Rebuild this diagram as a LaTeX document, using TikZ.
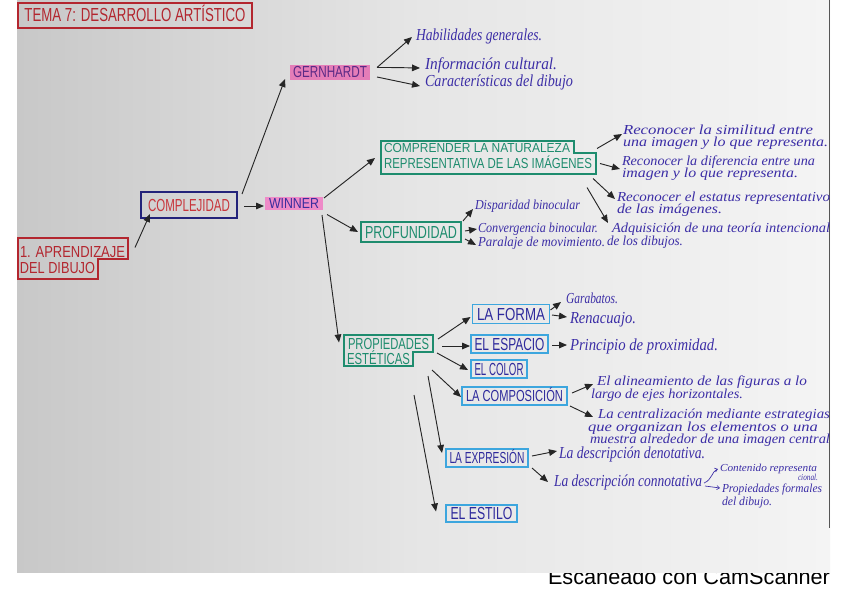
\documentclass[tikz,border=0pt]{standalone}
\usepackage{fontspec}
\usepackage{graphicx}
\usetikzlibrary{arrows.meta}
\setmainfont{Liberation Serif}
\newfontfamily\capsfont{Liberation Sans}
\newdimen\pu \pu=0.75pt
\newcommand\F[3]{\resizebox{#1\pu}{#2\pu}{\capsfont\raisebox{0pt}[\fontcharht\font`E][0pt]{#3}}}
\newcommand\C[3][10]{\resizebox{#2\pu}{#1\pu}{\itshape\raisebox{0pt}[\fontcharht\font`l][0pt]{#3}}}
\definecolor{redc}{HTML}{B3262F}
\definecolor{navyc}{HTML}{23237A}
\definecolor{complejred}{HTML}{C8363C}
\definecolor{pinkc}{HTML}{EE8AC8}
\definecolor{gernpink}{HTML}{E57DB8}
\definecolor{winnertext}{HTML}{3A2E9E}
\definecolor{gerntext}{HTML}{5B2A86}
\definecolor{greenc}{HTML}{1E8C6E}
\definecolor{bluec}{HTML}{3DA6DE}
\definecolor{bluetext}{HTML}{2E2A9C}
\definecolor{inkc}{HTML}{3B2DA6}
\definecolor{arrc}{HTML}{262626}
\definecolor{paperL}{HTML}{C8C8C8}
\definecolor{paperM}{HTML}{E6E6E6}
\definecolor{paperR}{HTML}{F4F4F4}
\definecolor{edgec}{HTML}{555555}
\begin{document}
\begin{tikzpicture}[x=0.75pt,y=-0.75pt,
  every node/.style={inner sep=0pt,outer sep=0pt},
  redbox/.style={draw=redc,line width=0.9pt,text=redc},
  navybox/.style={draw=navyc,line width=2.2pt,text=complejred},
  greenbox/.style={draw=greenc,line width=0.9pt,text=greenc},
  bluebox/.style={draw=bluec,line width=1.1pt,text=bluetext},
  ink/.style={text=inkc,anchor=west},
  arr/.style={draw=arrc,line width=0.7pt,-{Triangle[length=6pt,width=5pt]}},
  smallarr/.style={draw=inkc,line width=0.5pt,-{Straight Barb[length=2pt,width=3pt]}}]
\fill[white] (0,0) rectangle (848,599);
\useasboundingbox (0,0) rectangle (848,599);
% footer (partly hidden by the page)
\node[anchor=base west,text=black] (scan) at (548,584) {\resizebox{282\pu}{!}{\capsfont Escaneado con CamScanner}};
% paper
\shade[left color=paperL,right color=paperR,middle color=paperM] (17,0) rectangle (830,572);
\draw[edgec,line width=0.8pt] (829.5,0) -- (829.5,528);

% title
\node[redbox,minimum width=234*\pu,minimum height=25*\pu] (tema) at (135,15.5) {\F{221}{13}{TEMA 7: DESARROLLO ARTÍSTICO}};

% 1. aprendizaje
\node[text=redc,anchor=west] (apr1) at (20,251.5) {\F{105}{11}{1. APRENDIZAJE}};
\node[text=redc,anchor=west] (apr2) at (20,268) {\F{75}{11}{DEL DIBUJO}};
\draw[redc,line width=0.9pt] (18,238) -- (128,238) -- (128,259) -- (98,259) -- (98,279) -- (18,279) -- cycle;

% complejidad, winner, gernhardt
\node[navybox,minimum width=96*\pu,minimum height=26*\pu] (complej) at (189,205) {\F{82}{12}{COMPLEJIDAD}};
\node[fill=pinkc,text=winnertext,minimum width=58*\pu,minimum height=13*\pu] (winner) at (294,203.5) {\F{50}{10}{WINNER}};
\node[fill=gernpink,text=gerntext,minimum width=80*\pu,minimum height=15*\pu] (gern) at (330,72.5) {\F{74}{11}{GERNHARDT}};

\draw[arr] ([shift={(10,-4)}]apr1.east) -- ([shift={(9,-4)}]complej.south west);
\draw[arr] ([shift={(5,2)}]complej.north east) -- ([shift={(-5,-1)}]gern.south west);
\draw[arr] ([shift={(7,1)}]complej.east) -- ([shift={(-1,2.5)}]winner.west);

% gernhardt children
\node[ink] (habil) at (416,35) {\C[11]{126}{Habilidades generales.}};
\node[ink] (inform) at (425,64) {\C[11]{132}{Información cultural.}};
\node[ink] (caract) at (425,81) {\C[11]{148}{Características del dibujo}};
\draw[arr] ([shift={(7,-5)}]gern.east) -- ([shift={(-4,2)}]habil.west);
\draw[arr] ([shift={(7,-5)}]gern.east) .. controls ([shift={(22,-5)}]gern.east) .. ([shift={(-5,4)}]inform.west);
\draw[arr] ([shift={(7,4.5)}]gern.east) -- ([shift={(-5,5)}]caract.west);

% comprender
\node[text=greenc,anchor=west] (c1) at (384,148) {\F{186}{9}{COMPRENDER LA NATURALEZA}};
\node[text=greenc,anchor=west] (c2) at (384,163) {\F{208}{10}{REPRESENTATIVA DE LAS IMÁGENES}};
\draw[greenc,line width=0.9pt] (381,141) -- (574,141) -- (574,153) -- (596,153) -- (596,174) -- (381,174) -- cycle;
\draw[arr] ([shift={(1,1)}]winner.north east) -- ([shift={(-9,0)}]c2.north west);

\node[ink] (sim1) at (623,130) {\C[9]{190}{Reconocer la similitud entre}};
\node[ink] (sim2) at (623,142) {\C[9]{205}{una imagen y lo que representa.}};
\node[ink] (dif1) at (622,161) {\C[9]{193}{Reconocer la diferencia entre una}};
\node[ink] (dif2) at (622,173) {\C[9]{176}{imagen y lo que representa.}};
\node[ink] (estat1) at (617,197) {\C[9]{213}{Reconocer el estatus representativo}};
\node[ink] (estat2) at (617,209) {\C[9]{105}{de las imágenes.}};
\node[ink] (adq1) at (612,228) {\C[9]{218}{Adquisición de una teoría intencional}};
\node[ink] (adq2) at (607,241) {\C[9]{76}{de los dibujos.}};
\draw[arr] ([shift={(5,-14.5)}]c2.east) -- ([shift={(-1,4)}]sim1.west);
\draw[arr] ([shift={(8,0.5)}]c2.east) -- ([shift={(-2,8)}]dif1.west);
\draw[arr] ([shift={(1,15.5)}]c2.east) -- ([shift={(-2,2)}]estat1.west);
\draw[arr] ([shift={(-5,24.5)}]c2.east) -- ([shift={(-4,-5)}]adq1.west);

% profundidad
\node[greenbox,minimum width=100*\pu,minimum height=20*\pu] (profund) at (411,232) {\F{92}{12}{PROFUNDIDAD}};
\draw[arr] ([shift={(4,4.5)}]winner.south east) -- ([shift={(-3,0)}]profund.west);
\node[ink] (disp) at (475,205) {\C[9]{105}{Disparidad binocular}};
\node[ink] (conv) at (478,228) {\C[9]{120}{Convergencia binocular.}};
\node[ink] (paral) at (478,242) {\C[9]{127}{Paralaje de movimiento.}};
\draw[arr] ([shift={(2,-1)}]profund.north east) -- ([shift={(-2,4)}]disp.west);
\draw[arr] ([shift={(4,-1)}]profund.east) -- ([shift={(-1,1)}]conv.west);
\draw[arr] ([shift={(4,7)}]profund.east) -- ([shift={(-2,3)}]paral.west);

% propiedades esteticas
\node[text=greenc,anchor=west] (pr1) at (348,343.5) {\F{81}{11}{PROPIEDADES}};
\node[text=greenc,anchor=west] (pr2) at (347,359) {\F{63}{11}{ESTÉTICAS}};
\draw[greenc,line width=0.9pt] (344,335) -- (433,335) -- (433,352) -- (413,352) -- (413,366) -- (344,366) -- cycle;
\draw[arr] ([shift={(-1,5)}]winner.south east) -- ([shift={(-9,-1)}]pr1.west);

\node[bluebox,minimum width=77*\pu,minimum height=19*\pu] (forma) at (511,314) {\F{68}{12}{LA FORMA}};
\node[bluebox,minimum width=77*\pu,minimum height=18*\pu] (espacio) at (509.5,344) {\F{70}{12}{EL ESPACIO}};
\node[bluebox,minimum width=56*\pu,minimum height=18*\pu] (color) at (499,369) {\F{49}{12}{EL COLOR}};
\node[bluebox,minimum width=105*\pu,minimum height=18*\pu] (compos) at (514.5,396) {\F{97}{11}{LA COMPOSICIÓN}};
\node[bluebox,minimum width=82*\pu,minimum height=18*\pu] (expres) at (487,458) {\F{75}{11}{LA EXPRESIÓN}};
\node[bluebox,minimum width=71*\pu,minimum height=17*\pu] (estilo) at (481.5,513.5) {\F{62}{12}{EL ESTILO}};

\draw[arr] ([shift={(9,-4.5)}]pr1.east) -- ([shift={(-2,3)}]forma.west);
\draw[arr] ([shift={(13,2.5)}]pr1.east) -- ([shift={(-1,2)}]espacio.west);
\draw[arr] ([shift={(8,9.5)}]pr1.east) -- ([shift={(-3,1)}]color.west);
\draw[arr] ([shift={(22,11)}]pr2.east) -- ([shift={(-1,1)}]compos.west);
\draw[arr] ([shift={(18,17)}]pr2.east) -- ([shift={(-4,-5)}]expres.west);
\draw[arr] ([shift={(4,36)}]pr2.east) -- ([shift={(-10,-2)}]estilo.west);

% forma / espacio children
\node[ink] (garab) at (566,298) {\C[10]{52}{Garabatos.}};
\node[ink] (renac) at (570,318) {\C[11]{66}{Renacuajo.}};
\node[ink] (princ) at (570,345) {\C[11]{148}{Principio de proximidad.}};
\draw[arr] ([shift={(1,-4)}]forma.east) -- ([shift={(-5,4)}]garab.west);
\draw[arr] ([shift={(2.5,1)}]forma.east) -- ([shift={(-3,-1)}]renac.west);
\draw[arr] ([shift={(4,1)}]espacio.east) -- ([shift={(-3,0)}]princ.west);

% composicion children
\node[ink] (alin1) at (597,381) {\C[9]{210}{El alineamiento de las figuras a lo}};
\node[ink] (alin2) at (591,394) {\C[9]{152}{largo de ejes horizontales.}};
\node[ink] (centr1) at (598,414) {\C[9]{232}{La centralización mediante estrategias}};
\node[ink] (centr2) at (588,427) {\C[9]{230}{que organizan los elementos o una}};
\node[ink] (centr3) at (590,439) {\C[9]{240}{muestra alrededor de una imagen central}};
\draw[arr] ([shift={(5,-3)}]compos.east) -- ([shift={(-4,3)}]alin1.west);
\draw[arr] ([shift={(3,10)}]compos.east) -- ([shift={(-5,3)}]centr1.west);

% expresion children
\node[ink] (denot) at (559,453) {\C[11]{146}{La descripción denotativa.}};
\node[ink] (connot) at (554,481) {\C[11]{148}{La descripción connotativa}};
\draw[arr] ([shift={(4,-2)}]expres.east) -- ([shift={(-2,-2)}]denot.west);
\draw[arr] ([shift={(4,10)}]expres.east) -- ([shift={(-6,1)}]connot.west);
\node[ink] (cont1) at (720,468) {\C[7]{97}{Contenido representa}};
\node[text=inkc,anchor=east] (cont2) at (818,477) {\C[6]{20}{cional.}};
\node[ink] (propf1) at (722,488) {\C[8]{100}{Propiedades formales}};
\node[ink] (propf2) at (722,501) {\C[8]{50}{del dibujo.}};
\draw[smallarr] ([shift={(2,2)}]connot.east) .. controls ([shift={(10,-1)}]connot.east) and ([shift={(-8,3)}]cont1.west) .. ([shift={(-2,1)}]cont1.west);
\draw[smallarr] ([shift={(3,5)}]connot.east) -- ([shift={(-2,0)}]propf1.west);
\end{tikzpicture}
\end{document}
